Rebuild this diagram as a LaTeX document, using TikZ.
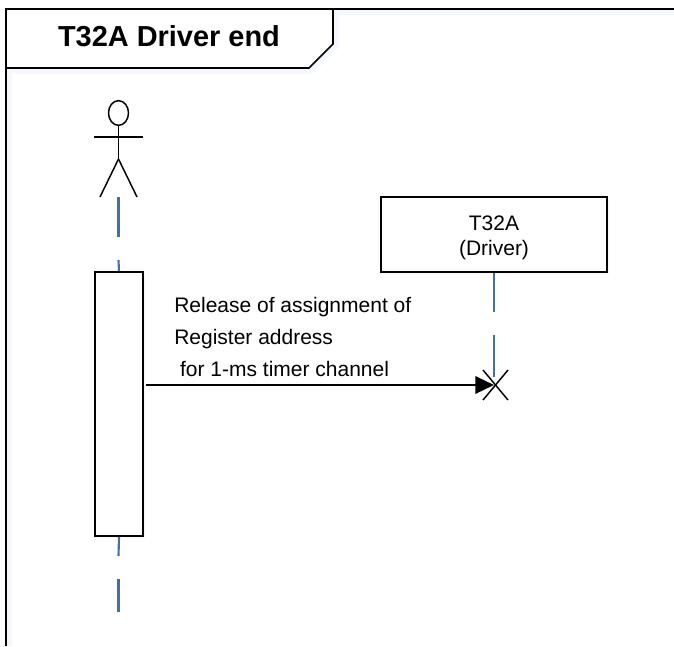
\documentclass[tikz,border=0pt]{standalone}
\usepackage{fontspec}
\setmainfont{Liberation Sans}
\usetikzlibrary{arrows.meta,shapes.geometric,shadows}
\tikzset{
  softshadow/.style={drop shadow={shadow xshift=1.5pt,shadow yshift=-1.5pt,fill=softblue,opacity=.3}},
  softline/.style={color=softblue!30,line width=4pt},
  outline/.style={color=black,line width=1.3pt},
  stickline/.style={color=black,line width=1.1pt},
  lifeline/.style={color=lifeblue,line width=1.6pt},
  bodytext/.style={font=\fontsize{15.75}{19}\selectfont,align=center},
  msgtext/.style={font=\fontsize{15.75}{24}\selectfont,align=left,anchor=north west,inner sep=0pt},
  boxnode/.style={draw,outline,fill=white,softshadow,inner sep=0pt}
}
\definecolor{lifeblue}{HTML}{41719C}
\definecolor{softblue}{HTML}{DCE8F8}
\begin{document}
\begin{tikzpicture}[x=0.75pt,y=-0.75pt]
        \useasboundingbox (0,0) rectangle (674,646);
        % frame and title
        \coordinate (framebl) at (6,646);
        \coordinate (frametl) at (6,9);
        \coordinate (frametr) at (674,9);
        \coordinate (titler) at (333,9);
        \coordinate (titlec) at (333,44);
        \coordinate (titleb) at (309,68);
        \coordinate (titlel) at (6,68);
        \draw[softline] (9,646) -- (9,12) -- (674,12);
        \draw[softline] (9,71) -- (311,71) -- (336,46) -- (336,12);
        \draw[outline,fill=white] (titlel) -- (titleb) -- (titlec) -- (titler) -- (frametl) -- cycle;
        \draw[outline] (framebl) -- (frametl) -- (frametr);
        \node (title) at (169,36) {\fontsize{21.7}{26}\selectfont\bfseries T32A Driver end};
        % routine for actor
        \node[ellipse,draw,stickline,fill=white,minimum width=15pt,minimum height=18.5pt,inner sep=0pt] (head) at (118.5,113) {};
        \coordinate (hip) at (118.5,159);
        \coordinate (lhand) at (94,137);
        \coordinate (rhand) at (143,137);
        \coordinate (lfoot) at (100,197);
        \coordinate (rfoot) at (137,197);
        \draw[stickline] (head) -- (hip);
        \draw[stickline] (lhand) -- (rhand);
        \draw[stickline] (hip) -- (lfoot);
        \draw[stickline] (hip) -- (rfoot);
        % boxes
        \node[boxnode,minimum width=36pt,minimum height=198pt] (focus) at (119,404) {};
        \node[boxnode,minimum width=169.5pt,minimum height=56.25pt] (driver) at (494,234.5) {};
        \node[bodytext] (drivertext) at (494,238) {T32A\\(Driver)};
        % routine for lifelines
        \coordinate (a1) at (118.5,197);
        \coordinate (a2) at (118.5,237);
        \coordinate (a3) at (118.5,260);
        \coordinate (a4) at (118.5,536);
        \coordinate (a5) at (118.5,556);
        \coordinate (a6) at (118.5,579);
        \coordinate (a7) at (118.5,612);
        \coordinate (d1) at (494,312);
        \coordinate (d2) at (494,335);
        \coordinate (d3) at (494,377);
        \coordinate (kill) at (494,385);
        \coordinate (killtl) at (483,370);
        \coordinate (killbr) at (508,400);
        \coordinate (killtr) at (508,370);
        \coordinate (killbl) at (483,400);
        \draw[lifeline] (a1) -- (a2);
        \draw[lifeline] (a3) -- (focus.north);
        \draw[lifeline] (focus.south) -- (a5);
        \draw[lifeline] (a6) -- (a7);
        \draw[lifeline] (driver.south) -- (d1);
        \draw[lifeline] (d2) -- (d3);
        % message
        \coordinate (msg) at (146,385);
        \draw[line width=1.8pt,-{Triangle[length=14pt,width=13pt]}] (msg) -- (kill);
        \draw[stickline] (killtl) -- (killbr);
        \draw[stickline] (killtr) -- (killbl);
        \node[msgtext] (label) at (174,297) {Release of assignment of\\Register address\\\ for 1-ms timer channel};
      \end{tikzpicture}
\end{document}
